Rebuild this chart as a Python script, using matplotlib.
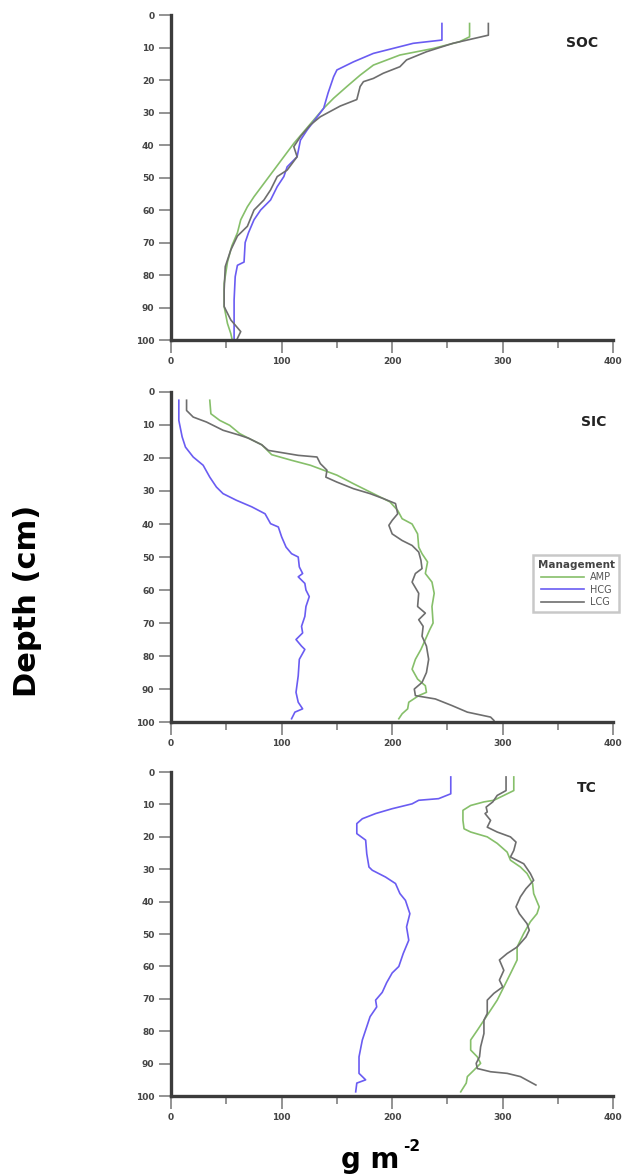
import matplotlib.pyplot as plt
from matplotlib.ticker import MultipleLocator

# depth (cm) and carbon stock (g m-2)
soc_hcg_d = [2.6, 7.7, 8.7, 11.8, 14.4, 16.9, 19, 24, 28.7, 32.3, 35.4, 38.5, 43.6, 46.7, 49.7,
             52.8, 56.9, 60, 63, 67, 70, 76, 77, 80.5, 87.7, 93.8, 99.5]
soc_hcg_v = [245, 245, 219, 183, 165, 150, 147, 142, 138, 130, 123, 117, 114, 105, 102,
             96, 90, 81, 75, 70, 67, 66, 60, 58, 57, 57, 57]
soc_amp_d = [2.6, 6.7, 8.2, 10.3, 12.3, 15.4, 18.5, 22, 25.6, 28.7, 32.3, 35.9, 39.5, 43.6, 47.7,
             51.8, 55.9, 59, 63, 67, 71, 76, 82.6, 89.7, 94.9, 98, 99.5]
soc_amp_v = [270, 270, 261, 237, 207, 183, 171, 159, 147, 138, 129, 120, 111, 102, 93,
             84, 75, 69, 63, 60, 55, 51, 48, 48, 51, 54, 55]
soc_lcg_d = [2.6, 6.2, 8.7, 11.3, 13.8, 15.9, 17.9, 19.5, 20.5, 22, 26, 28, 31.3, 33.8, 37.4,
             40.5, 43.6, 47.7, 49.7, 53.8, 56.9, 60, 65, 68, 72.3, 77.4, 84.6, 89.7, 93.8, 97.4, 99.5]
soc_lcg_v = [287, 287, 255, 231, 213, 207, 192, 183, 174, 171, 168, 153, 135, 126, 117,
             111, 114, 105, 96, 90, 84, 75, 69, 60, 54, 49, 48, 48, 54, 63, 60]

sic_hcg_d = [2.5, 8.6, 13.6, 16.7, 19.7, 22.2, 25.8, 28.8, 30.8, 32.8, 34.8, 36.9, 39.9, 40.9, 43.9,
             47, 49, 50, 53, 55, 56, 58, 60, 62, 65, 68, 71, 73, 75, 77, 78, 81, 86, 91, 94, 96, 97, 99]
sic_hcg_v = [7, 7, 10, 13, 20, 29, 35, 41, 47, 59, 73, 85, 90, 97, 100,
             104, 109, 115, 116, 119, 115, 121, 122, 125, 122, 121, 118, 119, 113, 118, 121, 116, 115, 113, 115, 119, 112, 109]
sic_amp_d = [2.5, 6.6, 8.6, 10.1, 12.6, 14, 16, 18, 19, 20.7, 22.2, 23.7, 25.2, 27.8, 30.3, 33.3,
             35.9, 38.4, 40, 43, 47, 49, 51.5, 55, 57.6, 61, 65, 70, 72, 75, 78, 81, 84, 87, 89, 91,
             92, 94, 96, 97.5, 99]
sic_amp_v = [35, 36, 44, 53, 62, 70, 82, 88, 91, 109, 126, 138, 150, 165, 180, 198,
             205, 209, 218, 223, 224, 227, 232, 230, 236, 238, 236, 237, 234, 230, 226, 221, 218, 223, 230, 231,
             224, 215, 214, 209, 206]
sic_lcg_d = [2.5, 5.6, 7.6, 9.1, 11.6, 13.1, 14, 16, 17.7, 18.2, 19.2, 19.7, 21.7, 23.7, 25.8, 27.3,
             29.3, 30.8, 32.3, 33.8, 36.9, 38.9, 40.4, 43, 45, 46.5, 48.5, 51, 53.5, 55, 57.6, 61, 65,
             67, 69, 71, 74, 77, 81, 85, 88, 90, 92, 93, 95, 97, 98.5, 99.5]
sic_lcg_v = [14, 14, 20, 32, 47, 62, 70, 82, 88, 97, 115, 132, 135, 141, 140, 150,
             165, 180, 192, 203, 205, 200, 197, 200, 209, 218, 224, 226, 227, 221, 218, 224, 223,
             230, 224, 228, 227, 231, 233, 231, 227, 220, 221, 239, 254, 268, 289, 292]

tc_hcg_d = [1.5, 6.7, 8.2, 8.7, 9.8, 11.3, 12.8, 14.4, 15.9, 19, 21, 25.2, 29.3, 30.3, 32.4, 34.4,
            37.5, 39.6, 43.7, 47.8, 51.9, 56, 60, 62, 65, 68, 70.4, 72.5, 75.5, 78.6, 82.7, 87.9,
            93, 95, 96, 98.7]
tc_hcg_v = [253, 253, 242, 224, 218, 200, 185, 173, 168, 168, 176, 177, 179, 182, 194, 203,
            207, 212, 216, 213, 215, 210, 206, 200, 195, 191, 185, 186, 180, 177, 173, 170,
            170, 176, 168, 167]
tc_amp_d = [1.5, 5.7, 7.2, 8.7, 9.2, 10.3, 11.8, 14.9, 17.5, 18.5, 20, 22, 24.7, 27.2, 29.3, 31.3,
            34.4, 37.5, 41.6, 43.7, 46.2, 49.8, 54, 58, 62.2, 66.3, 70.4, 73.5, 76.6, 79.7, 82.7,
            85.8, 87.9, 89.9, 92, 94, 96, 98.7]
tc_amp_v = [310, 310, 301, 292, 283, 271, 264, 264, 265, 271, 286, 295, 304, 307, 316, 322,
            327, 328, 333, 331, 325, 319, 313, 313, 307, 301, 295, 289, 283, 277, 271,
            271, 277, 280, 274, 268, 267, 262]
tc_lcg_d = [1.5, 5.7, 7.2, 9.2, 10.8, 12.3, 12.8, 14.9, 17, 18.5, 20, 21.6, 24.2, 26.2, 28.3, 31.3,
            33.4, 36, 38.5, 41.6, 43.7, 46.8, 48.8, 50.9, 54, 56, 58, 61.2, 64.2, 66.3, 68.3, 70.4,
            74.5, 76.6, 80.7, 84.8, 87.9, 89.9, 91.5, 92.5, 93, 94, 96.6]
tc_lcg_v = [303, 303, 295, 291, 285, 286, 284, 289, 286, 295, 307, 312, 310, 307, 319, 325,
            328, 321, 316, 312, 315, 322, 324, 321, 313, 304, 297, 301, 297, 300, 292, 286,
            286, 283, 283, 280, 279, 276, 277, 289, 304, 316, 330]

panels = [
    ("SOC", [(soc_amp_v, soc_amp_d), (soc_hcg_v, soc_hcg_d), (soc_lcg_v, soc_lcg_d)]),
    ("SIC", [(sic_amp_v, sic_amp_d), (sic_hcg_v, sic_hcg_d), (sic_lcg_v, sic_lcg_d)]),
    ("TC", [(tc_amp_v, tc_amp_d), (tc_hcg_v, tc_hcg_d), (tc_lcg_v, tc_lcg_d)]),
]
labels = ["AMP", "HCG", "LCG"]
colors = ["#86bf6a", "#6a5cf2", "#6e6e6e"]

fig = plt.figure(figsize=(6.29, 11.75), dpi=100)
boxes = [[0.272, 0.7106, 0.703, 0.2766],
         [0.272, 0.3855, 0.703, 0.2809],
         [0.272, 0.0672, 0.703, 0.2757]]
title_pos = [(0.93, 0.914), (0.955, 0.909), (0.94, 0.95)]

spine_col = "#3c3c3c"
for i, (name, series) in enumerate(panels):
    ax = fig.add_axes(boxes[i])
    for (v, d), lab, c in zip(series, labels, colors):
        ax.plot(v, d, color=c, lw=1.2, label=lab)
    ax.set_xlim(0, 400)
    ax.set_ylim(100, 0)
    ax.xaxis.set_major_locator(MultipleLocator(100))
    ax.xaxis.set_minor_locator(MultipleLocator(50))
    ax.yaxis.set_major_locator(MultipleLocator(10))
    for s in ["top", "right"]:
        ax.spines[s].set_visible(False)
    for s in ["left", "bottom"]:
        ax.spines[s].set_linewidth(2.4)
        ax.spines[s].set_color(spine_col)
    ax.tick_params(which="major", length=9, width=1.2, color="#808080",
                   labelsize=6.5, labelcolor="#444444", pad=3)
    ax.tick_params(which="minor", length=6, width=1.2, color="#808080")
    for t in ax.get_xticklabels() + ax.get_yticklabels():
        t.set_fontweight("bold")
    ax.text(title_pos[i][0], title_pos[i][1], name, transform=ax.transAxes,
            ha="center", va="center", fontsize=10, fontweight="bold", color="#222222")
    if name == "SIC":
        leg = ax.legend(title="Management", loc="center right", bbox_to_anchor=(1.025, 0.42),
                        fontsize=7, title_fontsize=7.5, frameon=True, fancybox=False,
                        handlelength=4.5, borderpad=0.5, labelspacing=0.25, handletextpad=0.6)
        leg.get_frame().set_edgecolor("#bbbbbb")
        leg.get_frame().set_linewidth(1.8)
        leg.get_title().set_color("#444444")
        leg.get_title().set_fontweight("bold")
        for t in leg.get_texts():
            t.set_color("#555555")

fig.text(0.043, 0.489, "Depth (cm)", rotation=90, ha="center", va="center",
         fontsize=22, fontweight="bold")
fig.text(0.588, 0.013, "g m", ha="center", va="center",
         fontsize=20, fontweight="bold")
fig.text(0.641, 0.024, "-2", ha="left", va="center",
         fontsize=11, fontweight="bold")

fig.savefig("out.png", dpi=100)
